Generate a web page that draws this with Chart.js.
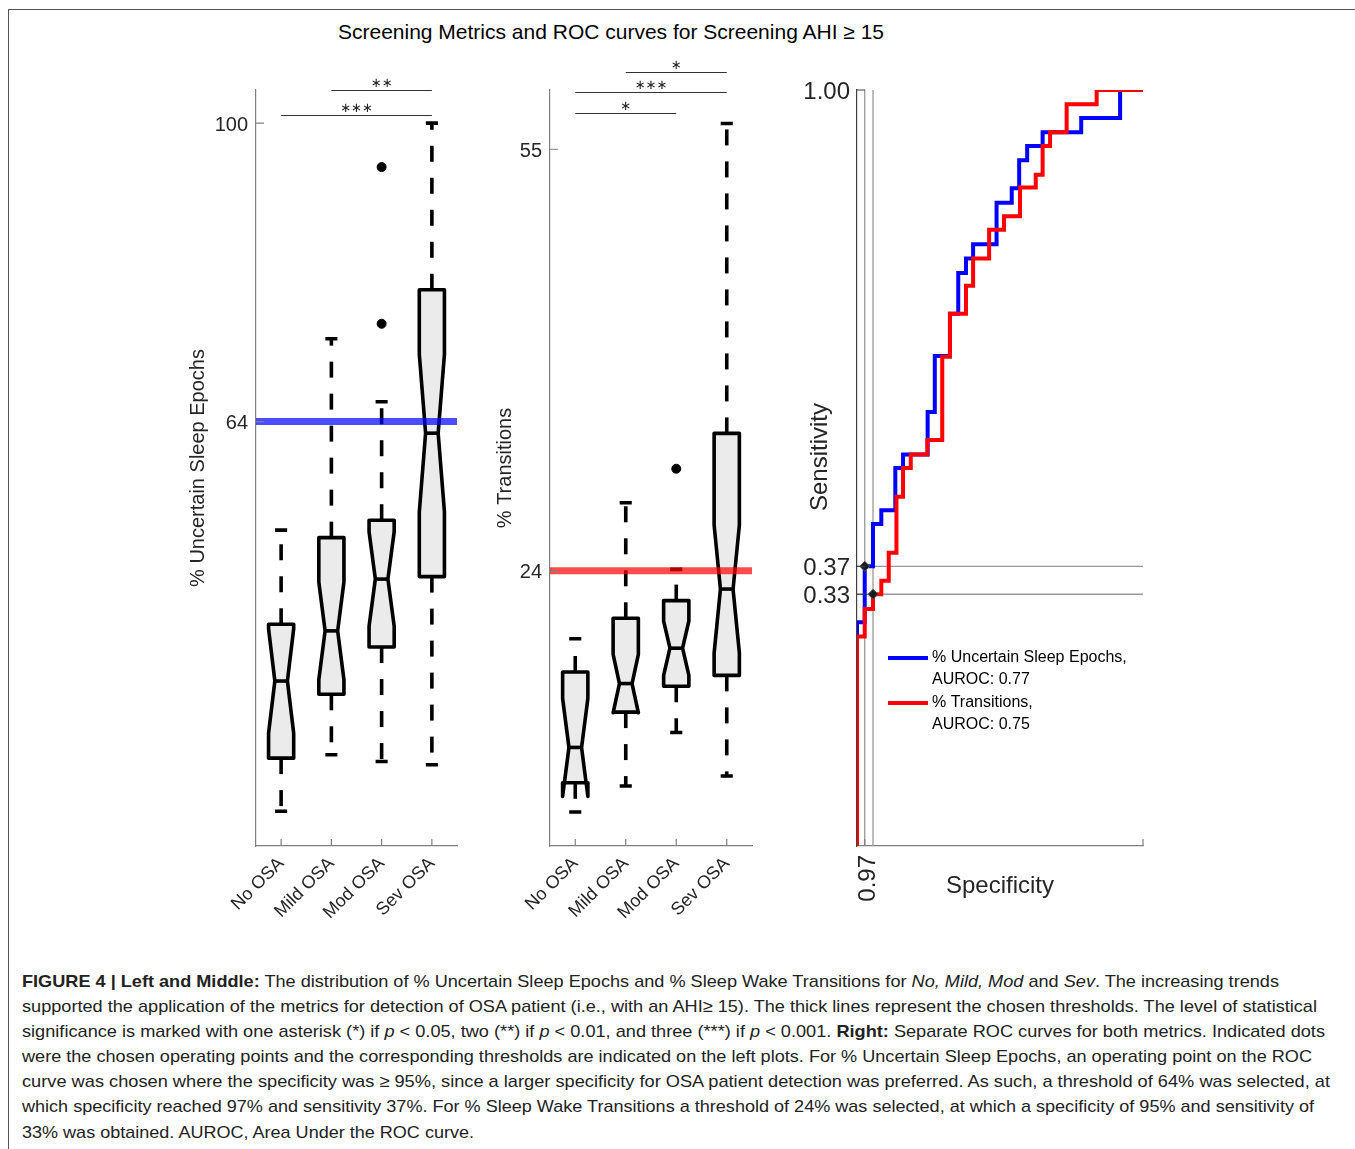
<!DOCTYPE html>
<html>
<head>
<meta charset="utf-8">
<script src="https://cdn.jsdelivr.net/npm/chart.js@4.4.1/dist/chart.umd.min.js"></script>
<style>
  body { margin: 0; background: #fff; width: 1355px; height: 1149px; position: relative; overflow: hidden;
         font-family: "Liberation Sans", Arial, Helvetica, sans-serif; }
  .frame { position: absolute; left: 8px; top: 9px; right: -2px; bottom: -2px;
           border-left: 1.5px solid #555; border-top: 1.5px solid #555; }
  canvas { position: absolute; }
  #title { position: absolute; top: 20px; left: 0; width: 1222px; text-align: center; font-size: 21px;
           line-height: 24px; color: #000; }
  .cap { position: absolute; left: 22px; font-size: 17px; line-height: 25px; white-space: nowrap;
         transform-origin: 0 50%; color: #222; }
</style>
</head>
<body>
<div class="frame"></div>
<div id="title">Screening Metrics and ROC curves for Screening AHI &#8805; 15</div>

<canvas id="uncertain" width="310" height="900" style="left:170px; top:40px;"></canvas>
<canvas id="transitions" width="310" height="900" style="left:465px; top:40px;"></canvas>
<canvas id="roc" width="400" height="900" style="left:775px; top:40px;"></canvas>

<div class="cap" data-w="1257" style="top:969px"><b>FIGURE 4 | Left and Middle:</b> The distribution of % Uncertain Sleep Epochs and % Sleep Wake Transitions for <i>No, Mild, Mod</i> and <i>Sev</i>. The increasing trends</div>
<div class="cap" data-w="1295" style="top:994px">supported the application of the metrics for detection of OSA patient (i.e., with an AHI&#8805; 15). The thick lines represent the chosen thresholds. The level of statistical</div>
<div class="cap" data-w="1303" style="top:1019px">significance is marked with one asterisk (*) if <i>p</i> &lt; 0.05, two (**) if <i>p</i> &lt; 0.01, and three (***) if <i>p</i> &lt; 0.001. <b>Right:</b> Separate ROC curves for both metrics. Indicated dots</div>
<div class="cap" data-w="1290" style="top:1044px">were the chosen operating points and the corresponding thresholds are indicated on the left plots. For % Uncertain Sleep Epochs, an operating point on the ROC</div>
<div class="cap" data-w="1308" style="top:1069px">curve was chosen where the specificity was &#8805; 95%, since a larger specificity for OSA patient detection was preferred. As such, a threshold of 64% was selected, at</div>
<div class="cap" data-w="1292" style="top:1094px">which specificity reached 97% and sensitivity 37%. For % Sleep Wake Transitions a threshold of 24% was selected, at which a specificity of 95% and sensitivity of</div>
<div class="cap" data-w="452" style="top:1120px">33% was obtained. AUROC, Area Under the ROC curve.</div>

<script>
// ---- data ----
const categories = ['No OSA', 'Mild OSA', 'Mod OSA', 'Sev OSA'];

// % Uncertain Sleep Epochs
const uncLowerWhisker = [17.0, 23.8, 23.0, 22.6];
const uncQ1 = [23.4, 31.1, 36.8, 45.3];
const uncMedian = [32.7, 38.75, 45.0, 62.6];
const uncQ3 = [39.55, 50.0, 52.1, 79.9];
const uncUpperWhisker = [50.9, 74.0, 66.4, 100];
const uncNotch = [6.3, 5.9, 5.7, 9.5];
const uncOutliers = [[], [], [94.7, 75.8], []];
const uncThreshold = 64;
const uncTicks = [64, 100];
const uncSig = [{from: 0, to: 3, stars: '∗∗∗', level: 101.0}, {from: 1, to: 3, stars: '∗∗', level: 104.0}];

// % Transitions
const trLowerWhisker = [6.25, 8.16, 12.1, 8.9];
const trQ1 = [8.4, 13.6, 15.5, 16.3];
const trMedian = [11.0, 15.7, 18.3, 22.65];
const trQ3 = [16.55, 20.5, 21.8, 34.1];
const trUpperWhisker = [19.0, 29.0, 24.1, 56.9];
const trNotch = [3.6, 2.15, 2.0, 4.7];
const trOutliers = [[], [], [31.5], []];
const trThreshold = 24;
const trTicks = [24, 55];
const trSig = [{from: 0, to: 2, stars: '∗', level: 57.65}, {from: 0, to: 3, stars: '∗∗∗', level: 59.2}, {from: 1, to: 3, stars: '∗', level: 60.7}];

// ROC curves (x = 1 - specificity, y = sensitivity)
const fprUnc = [0, 0, 0.027, 0.056, 0.085, 0.134, 0.161, 0.247, 0.272, 0.325, 0.354, 0.381, 0.406, 0.488, 0.541, 0.567, 0.595, 0.649, 0.784, 0.920, 1.0];
const tprUnc = [0, 0.296, 0.370, 0.426, 0.444, 0.500, 0.518, 0.574, 0.648, 0.704, 0.758, 0.777, 0.796, 0.851, 0.870, 0.907, 0.926, 0.944, 0.963, 1.0, 1.0];
const fprTr = [0, 0, 0.027, 0.056, 0.085, 0.111, 0.138, 0.161, 0.188, 0.246, 0.298, 0.325, 0.381, 0.406, 0.462, 0.514, 0.570, 0.625, 0.649, 0.675, 0.733, 0.838, 1.0];
const tprTr = [0, 0.277, 0.3135, 0.333, 0.351, 0.388, 0.462, 0.500, 0.518, 0.537, 0.647, 0.704, 0.741, 0.777, 0.815, 0.833, 0.871, 0.888, 0.926, 0.944, 0.981, 1.0, 1.0];
const opFpr = [0.027, 0.056];
const opTpr = [0.370, 0.333];
const rocYTicks = [0.333, 0.37, 1.0];
const rocXTicks = [0.027, 1.0];
const rocXLabels = ['0.97', ''];
const legendLabels = [['% Uncertain Sleep Epochs,', 'AUROC: 0.77'], ['% Transitions,', 'AUROC: 0.75']];

// ---- chart setup ----
Chart.defaults.font.family = '"Liberation Sans", Arial, Helvetica, sans-serif';
Chart.defaults.color = '#262626';
Chart.defaults.animation = false;
Chart.defaults.responsive = false;
Chart.defaults.events = [];
Chart.defaults.plugins.legend.display = false;
Chart.defaults.plugins.tooltip.enabled = false;

// fixed axis boxes so the plot areas land where the figure has them
const fixWidth = w => s => { s.width = w; s.paddingTop = 0; s.paddingBottom = 0; };
const fixHeight = h => s => { s.height = h; s.paddingLeft = 0; s.paddingRight = 0; };

// notched boxes + dashed whiskers drawn on the chart's scales
const boxPlot = {
  id: 'boxes',
  beforeDatasetsDraw(chart, args, opts) {
    const {ctx, scales: {x, y}} = chart;
    const s = opts.stats;
    const py = v => y.getPixelForValue(v);
    ctx.save();
    ctx.strokeStyle = '#000';
    ctx.lineWidth = 3.6;
    for (let i = 0; i < s.median.length; i++) {
      const cx = x.getPixelForValue(i + 0.5);
      const hw = x.getPixelForValue(i + 0.75) - cx;
      const cw = hw * 0.48;
      const q1 = py(s.q1[i]), q3 = py(s.q3[i]), md = py(s.median[i]);
      const nHi = py(s.median[i] + s.notch[i]), nLo = py(s.median[i] - s.notch[i]);
      const lw = py(s.lower[i]), uw = py(s.upper[i]);

      ctx.setLineDash([16, 16]);
      ctx.lineCap = 'butt';
      ctx.beginPath(); ctx.moveTo(cx, q3); ctx.lineTo(cx, uw); ctx.stroke();
      ctx.beginPath(); ctx.moveTo(cx, q1); ctx.lineTo(cx, lw); ctx.stroke();
      ctx.setLineDash([]);
      ctx.beginPath();
      ctx.moveTo(cx - cw, uw); ctx.lineTo(cx + cw, uw);
      ctx.moveTo(cx - cw, lw); ctx.lineTo(cx + cw, lw);
      ctx.stroke();

      ctx.lineJoin = 'round';
      ctx.beginPath();
      ctx.moveTo(cx - hw, q3);
      ctx.lineTo(cx + hw, q3);
      ctx.lineTo(cx + hw, nHi);
      ctx.lineTo(cx + hw / 2, md);
      ctx.lineTo(cx + hw, nLo);
      ctx.lineTo(cx + hw, q1);
      ctx.lineTo(cx - hw, q1);
      ctx.lineTo(cx - hw, nLo);
      ctx.lineTo(cx - hw / 2, md);
      ctx.lineTo(cx - hw, nHi);
      ctx.closePath();
      ctx.fillStyle = '#ebebeb';
      ctx.fill();
      ctx.stroke();
      ctx.beginPath();
      ctx.moveTo(cx - hw / 2, md); ctx.lineTo(cx + hw / 2, md);
      ctx.stroke();
    }
    ctx.restore();
  }
};

const sigBars = {
  id: 'sig',
  afterDraw(chart, args, opts) {
    const {ctx, scales: {x, y}} = chart;
    ctx.save();
    ctx.strokeStyle = '#333';
    ctx.lineWidth = 1;
    ctx.fillStyle = '#222';
    ctx.font = '13px "DejaVu Sans"';
    ctx.textAlign = 'center';
    ctx.textBaseline = 'alphabetic';
    opts.pairs.forEach(p => {
      const x0 = x.getPixelForValue(p.from + 0.5), x1 = x.getPixelForValue(p.to + 0.5);
      const yy = Math.round(y.getPixelForValue(p.level)) + 0.5;
      ctx.beginPath(); ctx.moveTo(x0, yy); ctx.lineTo(x1, yy); ctx.stroke();
      ctx.fillText(p.stars, (x0 + x1) / 2, yy - 4);
    });
    ctx.restore();
  }
};

// MATLAB style ticks pointing into the axes
const innerTicks = {
  id: 'innerTicks',
  afterDraw(chart, args, opts) {
    const {ctx, chartArea: a, scales: {x, y}} = chart;
    ctx.save();
    ctx.lineWidth = 1.2;
    ctx.strokeStyle = opts.yColor;
    ctx.beginPath();
    y.ticks.forEach(t => { const p = y.getPixelForValue(t.value); ctx.moveTo(a.left, p); ctx.lineTo(a.left + 8, p); });
    ctx.stroke();
    ctx.strokeStyle = opts.xColor;
    ctx.beginPath();
    x.ticks.forEach(t => { const p = x.getPixelForValue(t.value); ctx.moveTo(p, a.bottom); ctx.lineTo(p, a.bottom - 7); });
    ctx.stroke();
    ctx.restore();
  }
};

// y title placed a little above the axis centre (as in the ROC panel)
const sideTitle = {
  id: 'sideTitle',
  afterDraw(chart, args, opts) {
    const {ctx, chartArea: a} = chart;
    ctx.save();
    ctx.translate(a.left - opts.dx, (a.top + a.bottom) / 2 - opts.dy);
    ctx.rotate(-Math.PI / 2);
    ctx.font = opts.size + 'px "Liberation Sans", Arial, sans-serif';
    ctx.fillStyle = '#262626';
    ctx.textAlign = 'center';
    ctx.textBaseline = 'middle';
    ctx.fillText(opts.text, 0, 0);
    ctx.restore();
  }
};

function boxChart(id, o) {
  const outPts = [];
  o.outliers.forEach((arr, i) => arr.forEach(v => outPts.push({x: i + 0.5, y: v})));
  return new Chart(document.getElementById(id), {
    type: 'scatter',
    data: {
      datasets: [
        {data: outPts, pointRadius: 4.5, backgroundColor: '#000', borderColor: '#000', order: 0},
        {type: 'line', data: [{x: 0, y: o.threshold}, {x: 4, y: o.threshold}], borderColor: o.thrColor,
         borderWidth: 7, pointRadius: 0, order: 1}
      ]
    },
    options: {
      layout: {padding: {top: 50, right: 23, left: 0, bottom: 0}},
      scales: {
        x: {
          type: 'linear', min: 0, max: 4,
          afterFit: fixHeight(94),
          afterBuildTicks: s => { s.ticks = categories.map((c, i) => ({value: i + 0.5})); },
          ticks: {callback: (v, i) => categories[i], minRotation: 45, maxRotation: 45, autoSkip: false,
                  padding: 7, font: {size: 18}},
          grid: {display: false, drawTicks: false},
          border: {color: '#808080', width: 1.2}
        },
        y: {
          min: o.yMin, max: o.yMax,
          afterFit: fixWidth(o.yWidth),
          afterBuildTicks: s => { s.ticks = o.yTicks.map(v => ({value: v})); },
          ticks: {autoSkip: false, padding: 8, font: {size: 20}, labelOffset: 2, callback: v => v},
          grid: {display: false, drawTicks: false},
          border: {color: '#808080', width: 1.2},
          title: {display: true, text: o.yTitle, font: {size: 20}, padding: {top: o.titlePad, bottom: 0}}
        }
      },
      plugins: {
        boxes: {stats: o.stats},
        sig: {pairs: o.sig},
        innerTicks: {xColor: '#808080', yColor: '#808080'}
      }
    },
    plugins: [boxPlot, sigBars, innerTicks]
  });
}

boxChart('uncertain', {
  stats: {lower: uncLowerWhisker, q1: uncQ1, median: uncMedian, q3: uncQ3, upper: uncUpperWhisker, notch: uncNotch},
  outliers: uncOutliers, threshold: uncThreshold, thrColor: 'rgba(0, 0, 255, 0.7)',
  yMin: 12.8, yMax: 104.0, yTicks: uncTicks, yTitle: '% Uncertain Sleep Epochs', titlePad: 16, yWidth: 86,
  sig: uncSig
});

boxChart('transitions', {
  stats: {lower: trLowerWhisker, q1: trQ1, median: trMedian, q3: trQ3, upper: trUpperWhisker, notch: trNotch},
  outliers: trOutliers, threshold: trThreshold, thrColor: 'rgba(255, 0, 0, 0.7)',
  yMin: 3.75, yMax: 59.36, yTicks: trTicks, yTitle: '% Transitions', titlePad: 28, yWidth: 85,
  sig: trSig
});

// legend inside the ROC axes
const rocLegend = {
  id: 'rocLegend',
  afterDatasetsDraw(chart, args, opts) {
    const {ctx, chartArea: a} = chart;
    ctx.save();
    ctx.font = '16px "Liberation Sans", Arial, sans-serif';
    ctx.textBaseline = 'middle';
    ctx.fillStyle = '#000';
    opts.items.forEach((it, k) => {
      const y0 = a.top + 568 + k * 45;
      ctx.strokeStyle = it.color;
      ctx.lineWidth = 4;
      ctx.beginPath(); ctx.moveTo(a.left + 31, y0); ctx.lineTo(a.left + 71, y0); ctx.stroke();
      it.lines.forEach((t, j) => ctx.fillText(t, a.left + 75, y0 + j * 22));
    });
    ctx.restore();
  }
};

const pts = (xs, ys) => xs.map((x, i) => ({x, y: ys[i]}));
const refLines = [];
opFpr.forEach(v => refLines.push({data: [{x: v, y: 0}, {x: v, y: 1}], borderColor: '#999', borderWidth: 1.3, pointRadius: 0, order: 3}));
opTpr.forEach(v => refLines.push({data: [{x: 0, y: v}, {x: 1, y: v}], borderColor: '#999', borderWidth: 1.3, pointRadius: 0, order: 3}));

new Chart(document.getElementById('roc'), {
  type: 'line',
  data: {
    datasets: [
      {data: pts(opFpr, opTpr), showLine: false, pointStyle: 'rectRot', pointRadius: 5,
       backgroundColor: '#1a1a1a', borderColor: '#555', borderWidth: 1, order: 0},
      {data: pts(fprTr, tprTr), stepped: 'before', borderColor: '#ff0000', borderWidth: 4, pointRadius: 0,
       borderJoinStyle: 'miter', order: 1},
      {data: pts(fprUnc, tprUnc), stepped: 'before', borderColor: '#0000ff', borderWidth: 4, pointRadius: 0,
       borderJoinStyle: 'miter', order: 2},
      ...refLines
    ]
  },
  options: {
    layout: {padding: {top: 50, right: 32, left: 0, bottom: 0}},
    scales: {
      x: {
        type: 'linear', min: 0, max: 1,
        afterFit: fixHeight(94),
        afterBuildTicks: s => { s.ticks = rocXTicks.map(v => ({value: v})); },
        ticks: {callback: (v, i) => rocXLabels[i], minRotation: 90, maxRotation: 90, autoSkip: false,
                padding: 9, labelOffset: 4, font: {size: 24}},
        grid: {display: false, drawTicks: false},
        border: {color: '#808080', width: 1.2},
        title: {display: true, text: 'Specificity', font: {size: 24}, padding: {top: 0, bottom: 39.6}}
      },
      y: {
        type: 'linear', min: 0, max: 1,
        afterFit: fixWidth(82),
        afterBuildTicks: s => { s.ticks = rocYTicks.map(v => ({value: v})); },
        ticks: {autoSkip: false, padding: 7, labelOffset: 2, font: {size: 24}, callback: v => v.toFixed(2)},
        grid: {display: false, drawTicks: false},
        border: {color: '#404040', width: 1.2}
      }
    },
    plugins: {
      rocLegend: {items: [{color: '#0000ff', lines: legendLabels[0]}, {color: '#ff0000', lines: legendLabels[1]}]},
      innerTicks: {xColor: '#808080', yColor: '#404040'},
      sideTitle: {text: 'Sensitivity', size: 24, dx: 37, dy: 11}
    }
  },
  plugins: [rocLegend, innerTicks, sideTitle]
});

// fit caption lines to the printed line widths
document.querySelectorAll('.cap').forEach(el => {
  const w = el.getBoundingClientRect().width;
  el.style.transform = 'scaleX(' + (+el.dataset.w / w) + ')';
});
</script>
</body>
</html>
